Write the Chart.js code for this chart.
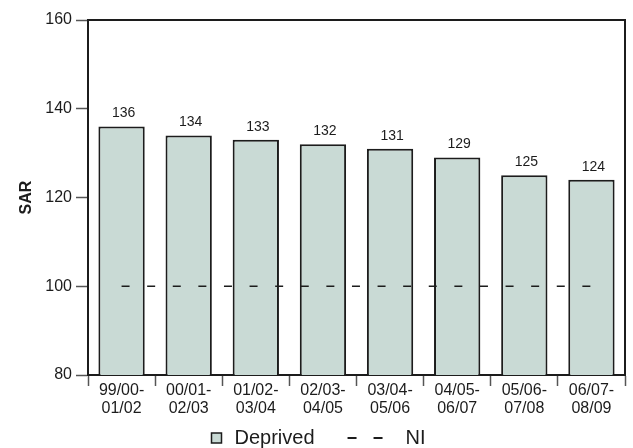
<!DOCTYPE html>
<html>
<head>
<meta charset="utf-8">
<script src="https://cdn.jsdelivr.net/npm/chart.js@4/dist/chart.umd.min.js"></script>
<style>
  body { margin: 0; background: #fff; }
  #wrap { width: 633px; height: 448px; position: relative; }
</style>
</head>
<body>
<div id="wrap"><canvas id="sarChart"></canvas></div>
<script>
// chart values
const periods = [
  ["99/00-", "01/02"],
  ["00/01-", "02/03"],
  ["01/02-", "03/04"],
  ["02/03-", "04/05"],
  ["03/04-", "05/06"],
  ["04/05-", "06/07"],
  ["05/06-", "07/08"],
  ["06/07-", "08/09"],
];
const deprived = [136, 134, 133, 132, 131, 129, 125, 124];
const ni = [100, 100, 100, 100, 100, 100, 100, 100];
const yMin = 80;
const yMax = 160;
const yStep = 20;

const FONT = "'Liberation Sans', Arial, sans-serif";
const barFill = "#c9dad5";
const ink = "#1c1c1c";

// top + right lines of the frame
const framePlugin = {
  id: "frame",
  afterDraw(chart) {
    const { ctx, chartArea } = chart;
    ctx.save();
    ctx.strokeStyle = ink;
    ctx.lineWidth = 2;
    ctx.beginPath();
    ctx.moveTo(chartArea.left - 1, chartArea.top);
    ctx.lineTo(chartArea.right, chartArea.top);
    ctx.lineTo(chartArea.right, chartArea.bottom);
    ctx.stroke();
    ctx.restore();
  },
};

// numbers above the bars (bar dataset is index 1)
const valueLabels = {
  id: "valueLabels",
  afterDatasetsDraw(chart) {
    const { ctx } = chart;
    const meta = chart.getDatasetMeta(1);
    ctx.save();
    ctx.font = "14px " + FONT;
    ctx.fillStyle = ink;
    ctx.textAlign = "center";
    ctx.textBaseline = "middle";
    meta.data.forEach((bar, i) => {
      ctx.fillText(String(deprived[i]), bar.x + 2, bar.y - 13);
    });
    ctx.restore();
  },
};

// legend under the axis
const bottomLegend = {
  id: "bottomLegend",
  afterDraw(chart) {
    const { ctx } = chart;
    const y = 438;
    let x = chart.width / 2 - 105;
    ctx.save();
    ctx.font = "20px " + FONT;
    ctx.textBaseline = "middle";
    ctx.fillStyle = barFill;
    ctx.fillRect(x, y - 5, 10, 10);
    ctx.strokeStyle = ink;
    ctx.lineWidth = 1.5;
    ctx.strokeRect(x, y - 5, 10, 10);
    x += 23;
    ctx.fillStyle = ink;
    ctx.fillText("Deprived", x, y);
    x += ctx.measureText("Deprived").width + 33;
    ctx.lineWidth = 2;
    ctx.setLineDash([9, 17]);
    ctx.beginPath();
    ctx.moveTo(x, y);
    ctx.lineTo(x + 35, y);
    ctx.stroke();
    ctx.setLineDash([]);
    x += 58;
    ctx.fillText("NI", x, y);
    ctx.restore();
  },
};

const ctx = document.getElementById("sarChart").getContext("2d");
const sarChart = new Chart(ctx, {
  data: {
    labels: periods,
    datasets: [
      {
        type: "line",
        label: "NI",
        data: ni,
        borderColor: ink,
        borderWidth: 1.5,
        borderDash: [8, 17.6],
        pointRadius: 0,
        fill: false,
        order: 0,
      },
      {
        type: "bar",
        label: "Deprived",
        data: deprived,
        backgroundColor: barFill,
        borderColor: ink,
        borderWidth: 2,
        barPercentage: 0.69,
        categoryPercentage: 1,
        order: 1,
      },
    ],
  },
  options: {
    responsive: true,
    maintainAspectRatio: false,
    animation: false,
    layout: { padding: { top: 20, right: 8, left: 0, bottom: 0 } },
    plugins: {
      legend: { display: false },
      tooltip: { enabled: false },
    },
    scales: {
      x: {
        offset: true,
        afterFit: (scale) => { scale.height = 73; },
        grid: {
          offset: true,
          drawOnChartArea: false,
          drawTicks: true,
          tickLength: 11,
          tickColor: "#555",
          tickWidth: 1.5,
        },
        border: { display: true, color: ink, width: 2 },
        ticks: {
          color: ink,
          padding: -4,
          maxRotation: 0,
          autoSkip: false,
          font: { family: FONT, size: 16, lineHeight: 1.1 },
        },
      },
      y: {
        min: yMin,
        max: yMax,
        afterFit: (scale) => { scale.width = 88; },
        grid: {
          drawOnChartArea: false,
          drawTicks: true,
          tickLength: 12,
          tickColor: "#555",
          tickWidth: 1.5,
        },
        border: { display: true, color: ink, width: 2 },
        ticks: {
          stepSize: yStep,
          color: ink,
          padding: 4,
          font: { family: FONT, size: 16 },
        },
        title: {
          display: true,
          text: "SAR",
          color: ink,
          padding: { top: 17, bottom: 0 },
          font: { family: FONT, size: 16, weight: "bold" },
        },
      },
    },
  },
  plugins: [framePlugin, valueLabels, bottomLegend],
});
</script>
</body>
</html>
